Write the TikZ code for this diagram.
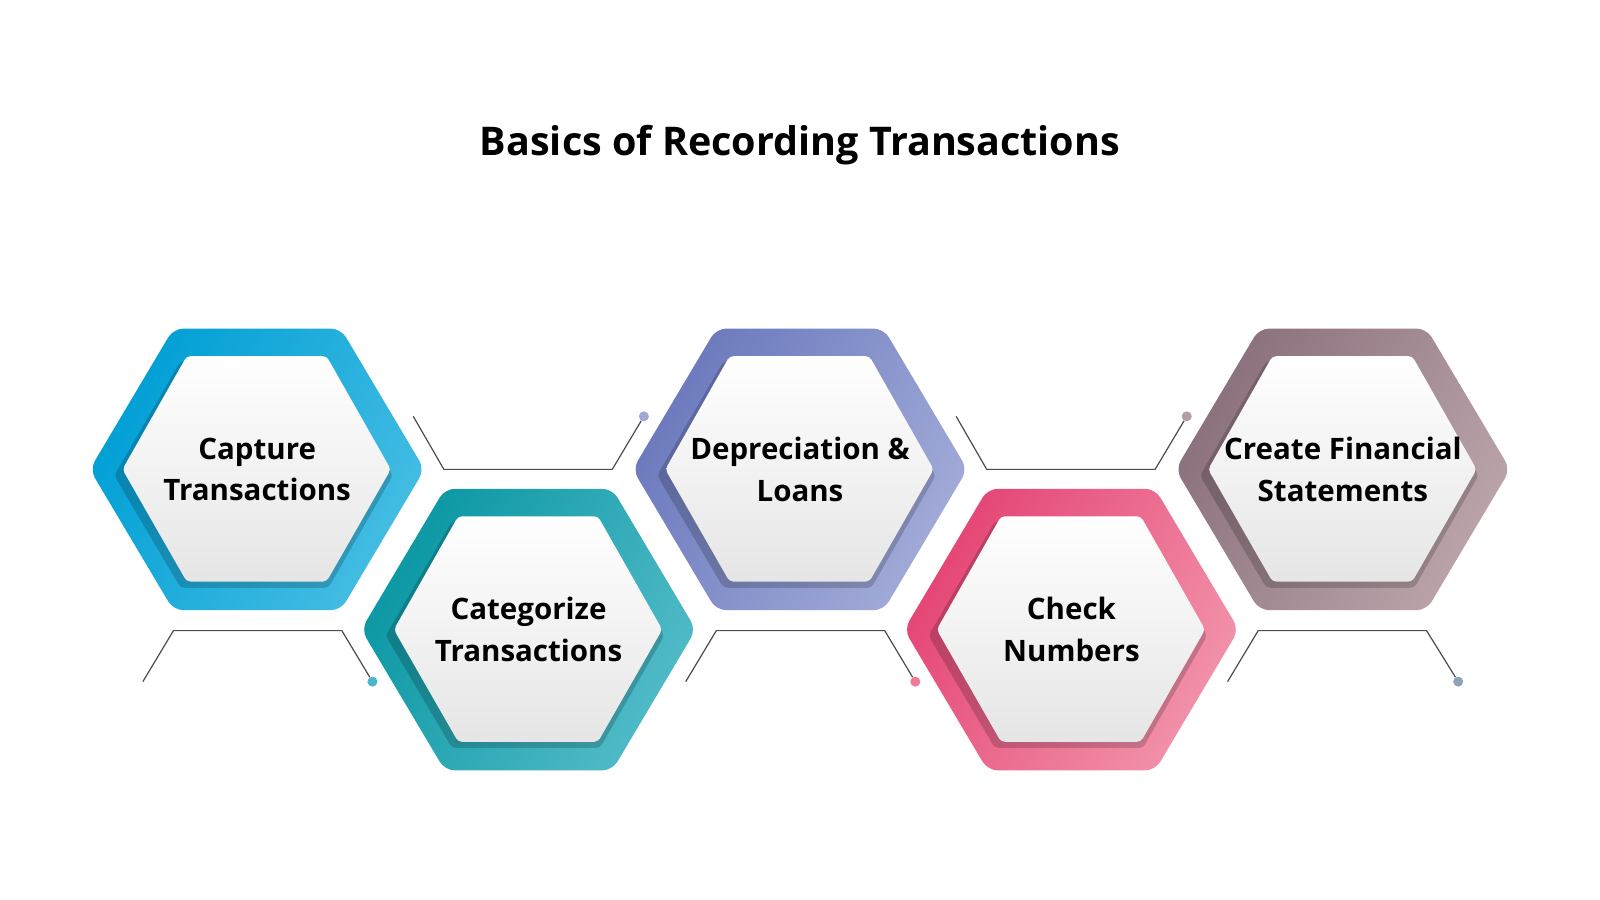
\documentclass[tikz,border=0pt]{standalone}
\usepackage{fontspec}
\setmainfont{Open Sans}
\usetikzlibrary{shadows}
\definecolor{c1a}{HTML}{009FD5}\definecolor{c1b}{HTML}{45BDE3}
\definecolor{c2a}{HTML}{0A97A3}\definecolor{c2b}{HTML}{52BBC8}
\definecolor{c3a}{HTML}{6B79BD}\definecolor{c3b}{HTML}{A2ABD8}
\definecolor{c4a}{HTML}{E44474}\definecolor{c4b}{HTML}{F293AB}
\definecolor{c5a}{HTML}{8A707C}\definecolor{c5b}{HTML}{BBA5AA}
\definecolor{d1}{HTML}{4BB7C8}\definecolor{d2}{HTML}{A0A8D6}
\definecolor{d3}{HTML}{EE7A98}\definecolor{d4}{HTML}{B39DA3}
\definecolor{d5}{HTML}{8FA3B8}
\begin{document}
\begin{tikzpicture}[x=1.0204pt,y=-1.0204pt,
  lbl/.style={font=\fontsize{29.5}{41.5}\selectfont\bfseries,align=center,text=black},
  conn/.style={draw=black!70,line width=1.2pt},
  dotc/.style={circle,inner sep=0pt,minimum size=10pt}]
\fill[white] (0,0) rectangle (1568,882);
\node[font=\fontsize{39.5}{46}\selectfont\bfseries] (title) at (784,142) {Basics of Recording Transactions};
\newcommand{\hexa}[5]{%
  \begin{scope}[shift={(#1,#2)}]
  \shade[left color=#3,right color=#4,shading angle=60,rounded corners=10pt]
    (-164,0)--(-82,-138)--(82,-138)--(164,0)--(82,138)--(-82,138)--cycle;
  \fill[black,opacity=0.18,rounded corners=4pt] (-140,6)--(-75,-106)--(70,-106)--(133,6)--(70,116)--(-75,116)--cycle;
  \shade[top color=white,bottom color=black!10,rounded corners=4pt]
    (-132,0)--(-69,-111)--(68,-111)--(131,0)--(68,110)--(-69,110)--cycle;
  \node[lbl] (#5) at (0,0) {};
  \end{scope}}
\hexa{252}{460}{c1a}{c1b}{h1}
\hexa{518}{617}{c2a}{c2b}{h2}
\hexa{784}{460}{c3a}{c3b}{h3}
\hexa{1050}{617}{c4a}{c4b}{h4}
\hexa{1316}{460}{c5a}{c5b}{h5}
\node[lbl] at (h1) {Capture\\Transactions};
\node[lbl] at (h2) {Categorize\\Transactions};
\node[lbl] at (h3) {Depreciation \&\\Loans};
\node[lbl] at (h4) {Check\\Numbers};
\node[lbl] at (h5) {Create Financial\\Statements};
\node[dotc,fill=d1] (e1) at (365,668) {};
\node[dotc,fill=d2] (e2) at (631,408) {};
\node[dotc,fill=d3] (e3) at (897,668) {};
\node[dotc,fill=d4] (e4) at (1163,408) {};
\node[dotc,fill=d5] (e5) at (1429,668) {};
\draw[conn] (140,668)--(170,618)--(335,618)--(e1);
\draw[conn] (405,408)--(435,460)--(600,460)--(e2);
\draw[conn] (672,668)--(702,618)--(867,618)--(e3);
\draw[conn] (937,408)--(967,460)--(1132,460)--(e4);
\draw[conn] (1203,668)--(1233,618)--(1398,618)--(e5);
\pgfresetboundingbox
\useasboundingbox (0,0) rectangle (1568,882);
\end{tikzpicture}
\end{document}
